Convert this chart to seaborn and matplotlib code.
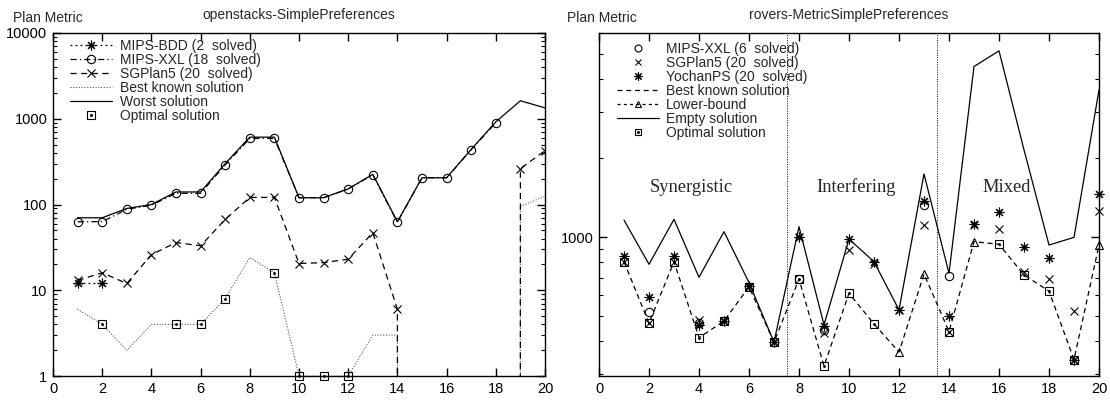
import numpy as np
import pandas as pd
import seaborn as sns
import matplotlib
matplotlib.use("Agg")
import matplotlib.pyplot as plt
from matplotlib.lines import Line2D
from matplotlib.ticker import FixedLocator, FuncFormatter, NullFormatter, LogLocator

# ---------------- data: openstacks-SimplePreferences ----------------
left_title = "openstacks-SimplePreferences"
bdd_x = [1, 2]
bdd_y = [12, 12]
xxl_x = list(range(1, 19))
xxl_y = [63, 63, 88, 98, 135, 135, 290, 590, 590, 120, 120, 152, 222, 62, 205, 205, 435, 900]
sgp_x = list(range(1, 21))
sgp_y = [13, 16, 12, 26, 36, 33, 67, 121, 121, 20.5, 21, 23, 47, 6, 0, 0, 0, 0, 262, 425]
best_x = list(range(1, 21))
best_y = [6, 4, 2, 4, 4, 4, 8, 24, 16, 1, 1, 1, 3, 3, 0, 0, 0, 0, 95, 125]
worst_x = list(range(1, 21))
worst_y = [70, 70, 90, 100, 140, 140, 300, 610, 610, 120, 120, 152, 225, 63, 205, 205, 440, 920, 1620, 1340]
opt_x = [2, 5, 6, 7, 9, 10, 11, 12]
opt_y = [4, 4, 4, 8, 16, 1, 1, 1]
left_labels = ["MIPS-BDD (2  solved)", "MIPS-XXL (18  solved)", "SGPlan5 (20  solved)",
               "Best known solution", "Worst solution", "Optimal solution"]

# ---------------- data: rovers-MetricSimplePreferences ----------------
right_title = "rovers-MetricSimplePreferences"
r_x = list(range(1, 21))
r_xxl_x = [2, 4, 8, 9, 13, 14]
r_xxl_y = [519, 470, 691, 442, 1325, 710]
r_sgp_y = [805, 469, 805, 482, 478, 646, 397, 997, 429, 892, 790, 527, 1111, 436, 1110, 1070, 737, 690, 523, 1260]
r_yoc_y = [846, 592, 846, 462, 478, 650, 397, 997, 459, 982, 805, 527, 1376, 499, 1121, 1242, 918, 834, 341, 1456]
r_best_y = [805, 469, 805, 413, 478, 646, 397, 691, 322, 610, 466, 364, 722, 436, 960, 938, 716, 622, 341, 932]
r_lb_x = [12, 13, 15, 20]
r_lb_y = [364, 722, 960, 932]
r_empty_y = [1160, 787, 1168, 702, 1048, 670, 397, 1095, 462, 982, 805, 527, 1740, 727, 4470, 5130, 2150, 932, 997, 3640]
r_opt_x = [1, 2, 3, 4, 5, 6, 7, 8, 9, 10, 11, 14, 16, 17, 18, 19]
r_opt_y = [805, 469, 805, 413, 478, 646, 397, 691, 322, 610, 466, 436, 938, 716, 622, 341]
right_labels = ["MIPS-XXL (6  solved)", "SGPlan5 (20  solved)", "YochanPS (20  solved)",
                "Best known solution", "Lower-bound", "Empty solution", "Optimal solution"]
group_names = ["Synergistic", "Interfering", "Mixed"]
group_pos = [(3.7, 1550), (10.3, 1550), (16.3, 1550)]
group_bounds = [7.5, 13.5]

# ---------------- style ----------------
sns.set_theme(style="ticks")
plt.rcParams["font.family"] = ["Liberation Sans", "DejaVu Sans"]
plt.rcParams["axes.linewidth"] = 1.0
plt.rcParams["axes.edgecolor"] = "black"

LW = 0.9
AST = (8, 2, 0)
K = "black"

fig = plt.figure(figsize=(11.1, 4.0), dpi=100)
axL = fig.add_axes([53 / 1110, 24 / 400, 492 / 1110, 343 / 400])
axR = fig.add_axes([599 / 1110, 24 / 400, 500 / 1110, 343 / 400])


def line(ax, x, y, ls, marker=None, ms=6, color=K, lw=LW, mfc="none", mew=0.8, zorder=3, clip=True):
    kw = dict(x=x, y=y, ax=ax, color=color, linestyle=ls, linewidth=lw, estimator=None,
              sort=False, legend=False, zorder=zorder)
    if marker is not None:
        kw.update(marker=marker, markersize=ms, markerfacecolor=mfc,
                  markeredgecolor=color, markeredgewidth=mew)
    sns.lineplot(**kw)
    ax.lines[-1].set_clip_on(clip)


# ---- left panel ----
ls_bdd = (0, (1.5, 2.5))
ls_xxl = (0, (5, 2.5, 1, 2.5))
ls_sgp = (0, (5, 3.5))
ls_best = (0, (1, 1.5))
line(axL, worst_x, worst_y, "-")
line(axL, best_x, best_y, ls_best, color="0.35", lw=0.8)
line(axL, sgp_x, sgp_y, ls_sgp, marker="x", ms=6)
line(axL, xxl_x, xxl_y, ls_xxl, marker="o", ms=6)
line(axL, bdd_x, bdd_y, ls_bdd, marker=AST, ms=7)
line(axL, opt_x, opt_y, "", marker="s", ms=6, clip=False)
line(axL, opt_x, opt_y, "", marker="o", ms=1.2, mfc=K, clip=False)

axL.set_yscale("log")
axL.set_xlim(0, 20)
axL.set_ylim(1, 10000)
axL.yaxis.set_major_locator(FixedLocator([1, 10, 100, 1000, 10000]))
axL.yaxis.set_minor_locator(LogLocator(base=10, subs=np.arange(2, 10), numticks=20))
axL.yaxis.set_major_formatter(FuncFormatter(lambda v, p: "%d" % v))
axL.yaxis.set_minor_formatter(NullFormatter())

hL = [
    Line2D([], [], color=K, ls=ls_bdd, lw=LW, marker=AST, ms=7, mec=K, mfc="none", mew=0.8),
    Line2D([], [], color=K, ls=ls_xxl, lw=LW, marker="o", ms=6, mec=K, mfc="none", mew=0.8),
    Line2D([], [], color=K, ls=ls_sgp, lw=LW, marker="x", ms=6, mec=K, mew=0.8),
    Line2D([], [], color="0.35", ls=ls_best, lw=0.8),
    Line2D([], [], color=K, ls="-", lw=LW),
    (Line2D([], [], color=K, ls="", marker="s", ms=6, mec=K, mfc="none", mew=0.8),
     Line2D([], [], color=K, ls="", marker="o", ms=1.2, mec=K, mfc=K)),
]
axL.legend(hL, left_labels, loc="upper left", bbox_to_anchor=(0.035, 0.982), frameon=False,
           fontsize=10, handlelength=3.0, handletextpad=0.6, labelspacing=0.0,
           borderpad=0, borderaxespad=0)

# ---- right panel ----
ls_rbest = (0, (4, 3))
ls_lb = (0, (2.5, 2.5))
for b in group_bounds:
    axR.axvline(b, color=K, ls=(0, (1, 1.5)), lw=0.7, zorder=1)
line(axR, r_x, r_empty_y, "-")
line(axR, r_x, r_best_y, ls_rbest)
line(axR, r_lb_x, r_lb_y, "", marker="^", ms=6, clip=False)
line(axR, r_opt_x, r_opt_y, "", marker="s", ms=6, clip=False)
line(axR, r_opt_x, r_opt_y, "", marker="o", ms=1.2, mfc=K, clip=False)
line(axR, r_x, r_sgp_y, "", marker="x", ms=6, clip=False)
line(axR, r_x, r_yoc_y, "", marker=AST, ms=7, clip=False)
line(axR, r_xxl_x, r_xxl_y, "", marker="o", ms=6, clip=False)

axR.set_yscale("log")
axR.set_xlim(0, 20)
axR.set_ylim(295, 6000)
axR.yaxis.set_major_locator(FixedLocator([1000]))
axR.yaxis.set_minor_locator(LogLocator(base=10, subs=np.arange(2, 10), numticks=20))
axR.yaxis.set_major_formatter(FuncFormatter(lambda v, p: "%d" % v))
axR.yaxis.set_minor_formatter(NullFormatter())

for name, (gx, gy) in zip(group_names, group_pos):
    axR.text(gx, gy, name, ha="center", va="center", fontsize=13.3,
             family=["Liberation Serif", "DejaVu Serif"])

hR = [
    Line2D([], [], ls="", marker="o", ms=5, mec=K, mfc="none", mew=0.8),
    Line2D([], [], ls="", marker="x", ms=5, mec=K, mew=0.8),
    Line2D([], [], ls="", marker=AST, ms=6, mec=K, mfc="none", mew=0.8),
    Line2D([], [], color=K, ls=ls_rbest, lw=LW),
    Line2D([], [], color=K, ls=ls_lb, lw=LW, marker="^", ms=5, mec=K, mfc="none", mew=0.8),
    Line2D([], [], color=K, ls="-", lw=LW),
    (Line2D([], [], color=K, ls="", marker="s", ms=5, mec=K, mfc="none", mew=0.8),
     Line2D([], [], color=K, ls="", marker="o", ms=1.2, mec=K, mfc=K)),
]
axR.legend(hR, right_labels, loc="upper left", bbox_to_anchor=(0.036, 0.975), frameon=False,
           fontsize=10, handlelength=3.0, handletextpad=0.55, labelspacing=0.0,
           borderpad=0, borderaxespad=0)

for ax, title in ((axL, left_title), (axR, right_title)):
    ax.set_xticks(np.arange(0, 21, 2))
    ax.tick_params(which="both", direction="in", top=True, right=True, colors=K,
                   labelsize=10.5, pad=4)
    ax.tick_params(which="major", length=6, width=1.0)
    ax.tick_params(which="minor", length=3, width=0.8)
    ax.set_xlabel("")
    ax.set_ylabel("")
    ax.set_title(title, fontsize=10, pad=10)
    ax.text(-0.081 if ax is axL else -0.064, 1.044, "Plan Metric", transform=ax.transAxes,
            fontsize=10, ha="left", va="center")
    for s in ax.spines.values():
        s.set_visible(True)
        s.set_color(K)

fig.savefig("out.png", dpi=100, facecolor="white")
